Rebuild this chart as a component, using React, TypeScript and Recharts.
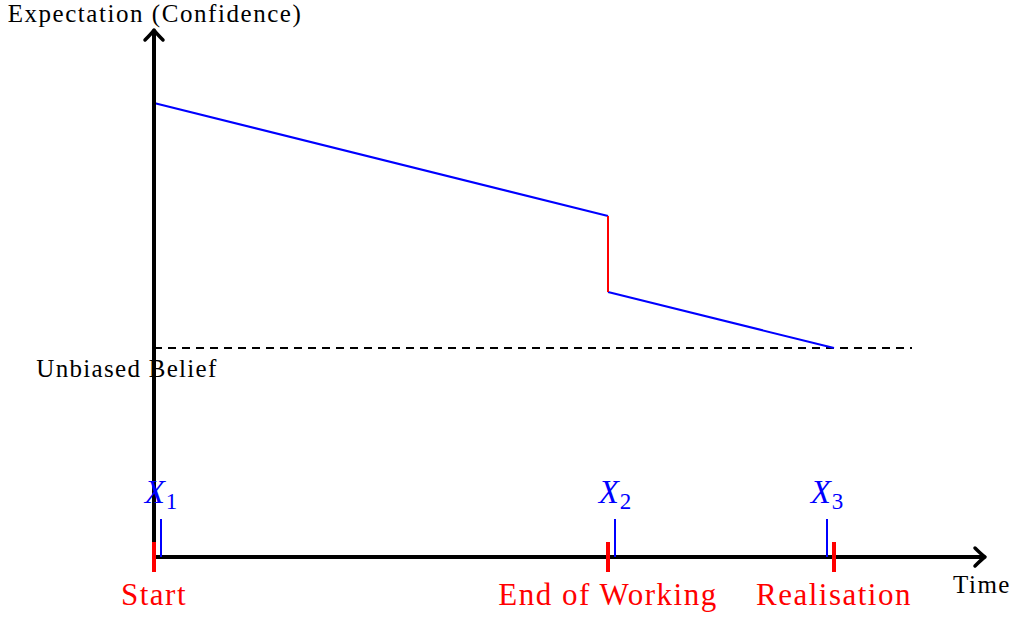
import React from 'react';
import { ComposedChart, Line, XAxis, YAxis, ReferenceDot } from 'recharts';

// Time axis positions (time units) of the milestones
const TIME_POINTS = [0, 454, 680];
const TIME_LABELS = ['Start', 'End of Working', 'Realisation'];
// Measurement points X1..X3
const MEASURE_POINTS = [7, 461, 673];
const MEASURE_SUBS = ['1', '2', '3'];
// Expectation (confidence) values
const BELIEF_BEFORE = [454, 341]; // at Start, at End of Working
const BELIEF_AFTER = [265, 209]; // after correction, at Realisation
const UNBIASED = 209;
const UNBIASED_END = 758;
const X_MAX = 831;
const Y_MAX = 527;
const X_DOMAIN: [number, number] = [-154, 865];
const Y_DOMAIN: [number, number] = [-60, 557];

const beliefBefore = [
  { t: TIME_POINTS[0], e: BELIEF_BEFORE[0] },
  { t: TIME_POINTS[1], e: BELIEF_BEFORE[1] },
];
const jump = [
  { t: TIME_POINTS[1], e: BELIEF_BEFORE[1] },
  { t: TIME_POINTS[1], e: BELIEF_AFTER[0] },
];
const beliefAfter = [
  { t: TIME_POINTS[1], e: BELIEF_AFTER[0] },
  { t: TIME_POINTS[2], e: BELIEF_AFTER[1] },
];
const unbiased = [
  { t: TIME_POINTS[0], e: UNBIASED },
  { t: UNBIASED_END, e: UNBIASED },
];
const xAxisLine = [
  { t: -2, e: 0 },
  { t: X_MAX, e: 0 },
];
const yAxisLine = [
  { t: 0, e: -2 },
  { t: 0, e: Y_MAX },
];

const FONT = '"Liberation Serif", "DejaVu Serif", serif';

const textShape = (txt: string, color: string, size: number, spacing: number) => (p: any) => (
  <text
    x={p.cx}
    y={p.cy}
    textAnchor="middle"
    fill={color}
    fontFamily={FONT}
    fontSize={size}
    letterSpacing={spacing}
  >
    {txt}
  </text>
);

const xLabelShape = (sub: string) => (p: any) => (
  <text x={p.cx} y={p.cy} textAnchor="middle" fill="#0000ff" fontFamily={FONT}>
    <tspan fontStyle="italic" fontSize={33}>X</tspan>
    <tspan fontSize={23} dx={1} dy={6}>{sub}</tspan>
  </text>
);

const arrowRight = (p: any) => (
  <path
    d={`M${p.cx - 10},${p.cy - 9} Q${p.cx - 3},${p.cy - 2} ${p.cx},${p.cy} Q${p.cx - 3},${p.cy + 2} ${p.cx - 10},${p.cy + 9}`}
    fill="none"
    stroke="#000"
    strokeWidth={3.5}
    strokeLinecap="round"
    strokeLinejoin="round"
  />
);
const arrowUp = (p: any) => (
  <path
    d={`M${p.cx - 9},${p.cy + 10} Q${p.cx - 2},${p.cy + 3} ${p.cx},${p.cy} Q${p.cx + 2},${p.cy + 3} ${p.cx + 9},${p.cy + 10}`}
    fill="none"
    stroke="#000"
    strokeWidth={3.5}
    strokeLinecap="round"
    strokeLinejoin="round"
  />
);

export default function App() {
  return (
    <div style={{ position: 'absolute', left: 0, top: 0, width: 1019, height: 617, background: '#fff' }}>
      <ComposedChart width={1019} height={617} margin={{ top: 0, right: 0, bottom: 0, left: 0 }}>
        <XAxis type="number" dataKey="t" domain={X_DOMAIN} hide allowDataOverflow />
        <YAxis type="number" dataKey="e" domain={Y_DOMAIN} hide allowDataOverflow />

        <Line data={unbiased} dataKey="e" stroke="#000" strokeWidth={2} strokeDasharray="8 6" dot={false} activeDot={false} isAnimationActive={false} />
        <Line data={beliefBefore} dataKey="e" stroke="#0000ff" strokeWidth={2} dot={false} activeDot={false} isAnimationActive={false} />
        <Line data={beliefAfter} dataKey="e" stroke="#0000ff" strokeWidth={2} dot={false} activeDot={false} isAnimationActive={false} />
        <Line data={jump} dataKey="e" stroke="#ff0000" strokeWidth={2} dot={false} activeDot={false} isAnimationActive={false} />

        <Line data={xAxisLine} dataKey="e" stroke="#000" strokeWidth={4} dot={false} activeDot={false} isAnimationActive={false} />
        <Line data={yAxisLine} dataKey="e" stroke="#000" strokeWidth={4} dot={false} activeDot={false} isAnimationActive={false} />
        <ReferenceDot x={X_MAX} y={0} r={0} shape={arrowRight} />
        <ReferenceDot x={0} y={Y_MAX} r={0} shape={arrowUp} />

        {MEASURE_POINTS.map((m, i) => (
          <Line
            key={'m' + i}
            data={[{ t: m, e: 0 }, { t: m, e: 38 }]}
            dataKey="e"
            stroke="#0000ff"
            strokeWidth={2}
            dot={false}
            activeDot={false}
            isAnimationActive={false}
          />
        ))}
        {TIME_POINTS.map((tp, i) => (
          <Line
            key={'tp' + i}
            data={[{ t: tp, e: 15 }, { t: tp, e: -15 }]}
            dataKey="e"
            stroke="#ff0000"
            strokeWidth={4}
            dot={false}
            activeDot={false}
            isAnimationActive={false}
          />
        ))}

        {TIME_POINTS.map((tp, i) => (
          <ReferenceDot key={'tl' + i} x={tp} y={-48} r={0} shape={textShape(TIME_LABELS[i], '#ff0000', 31, 1.5)} />
        ))}
        {MEASURE_POINTS.map((m, i) => (
          <ReferenceDot key={'ml' + i} x={m} y={54} r={0} shape={xLabelShape(MEASURE_SUBS[i])} />
        ))}

        <ReferenceDot x={1} y={535} r={0} shape={textShape('Expectation (Confidence)', '#000', 25, 1.55)} />
        <ReferenceDot x={828} y={-36} r={0} shape={textShape('Time', '#000', 25, 1.5)} />
        <ReferenceDot x={-27} y={180} r={0} shape={textShape('Unbiased Belief', '#000', 25, 1.3)} />
      </ComposedChart>
    </div>
  );
}
